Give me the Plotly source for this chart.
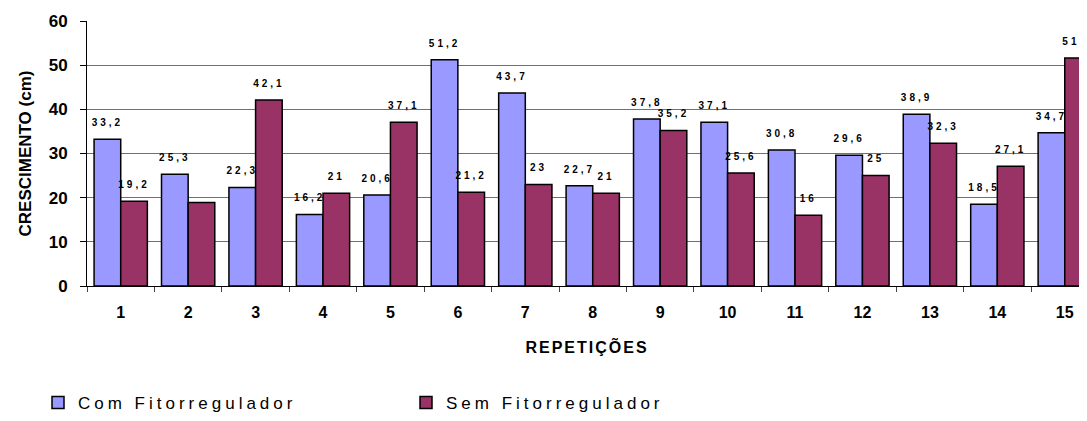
import plotly.graph_objects as go

repeticoes = [str(i) for i in range(1, 16)]
com_fito = [33.2, 25.3, 22.3, 16.2, 20.6, 51.2, 43.7, 22.7, 37.8, 37.1, 30.8, 29.6, 38.9, 18.5, 34.7]
sem_fito = [19.2, 18.9, 42.1, 21.0, 37.1, 21.2, 23.0, 21.0, 35.2, 25.6, 16.0, 25.0, 32.3, 27.1, 51.6]
sem_labels_shown = [True, False] + [True] * 13

FONT = "Liberation Sans, Arial, sans-serif"


def spaced(s, px):
    return f'<span style="letter-spacing:{px}px">{s}</span>'


def lab(v, show=True):
    if not show:
        return ""
    s = f"{v:g}".replace(".", ",")
    # value label, lifted a little above the bar by a tiny blank second line
    return f'<span style="letter-spacing:3px;font-size:10px">{s}</span><br>&nbsp;'


fig = go.Figure()
fig.add_trace(go.Bar(
    x=repeticoes, y=com_fito, name=spaced("Com Fitorregulador", 4),
    marker=dict(color="#9999FF", line=dict(color="#000000", width=1.5)),
    text=[lab(v) for v in com_fito], textposition="outside", constraintext="none",
    textfont=dict(family=FONT, size=7, color="#000000", weight="bold"),
    cliponaxis=True,
))
fig.add_trace(go.Bar(
    x=repeticoes, y=sem_fito, name=spaced("Sem Fitorregulador", 4),
    marker=dict(color="#993366", line=dict(color="#000000", width=1.5)),
    text=[lab(v, s) for v, s in zip(sem_fito, sem_labels_shown)], textposition="outside",
    constraintext="none",
    textfont=dict(family=FONT, size=7, color="#000000", weight="bold"),
    cliponaxis=True,
))

fig.update_layout(
    width=1079, height=413,
    margin=dict(l=79, r=0, t=13, b=129),
    paper_bgcolor="white", plot_bgcolor="white",
    barmode="group", bargap=0.21, bargroupgap=0,
    font=dict(family=FONT, color="#000000"),
    showlegend=True,
    legend=dict(
        orientation="h", x=-0.049, xanchor="left", y=-0.443, yanchor="middle",
        entrywidth=323, font=dict(family=FONT, size=17, color="#000000"),
        traceorder="normal",
    ),
    xaxis=dict(
        type="category", range=[-0.5, 14.33],
        showline=True, linecolor="#000000", linewidth=1,
        ticks="outside", tickson="boundaries", ticklen=5, tickcolor="#444444",
        tickfont=dict(family=FONT, size=16, color="#000000", weight="bold"),
        ticklabelstandoff=12,
        title=dict(text=spaced("REPETIÇÕES", 2),
                   font=dict(family=FONT, size=16, color="#000000", weight="bold"), standoff=21),
        showgrid=False,
    ),
    yaxis=dict(
        range=[0, 60], dtick=10,
        showline=True, linecolor="#000000", linewidth=1,
        ticks="outside", ticklen=6, tickcolor="#000000",
        tickfont=dict(family=FONT, size=17, color="#000000", weight="bold"),
        ticklabelstandoff=9,
        showgrid=True, gridcolor="#707070", gridwidth=1,
        zeroline=False,
        title=dict(text="CRESCIMENTO (cm)",
                   font=dict(family=FONT, size=17, color="#000000", weight="bold"), standoff=12),
    ),
)

fig.write_html("out.html")
